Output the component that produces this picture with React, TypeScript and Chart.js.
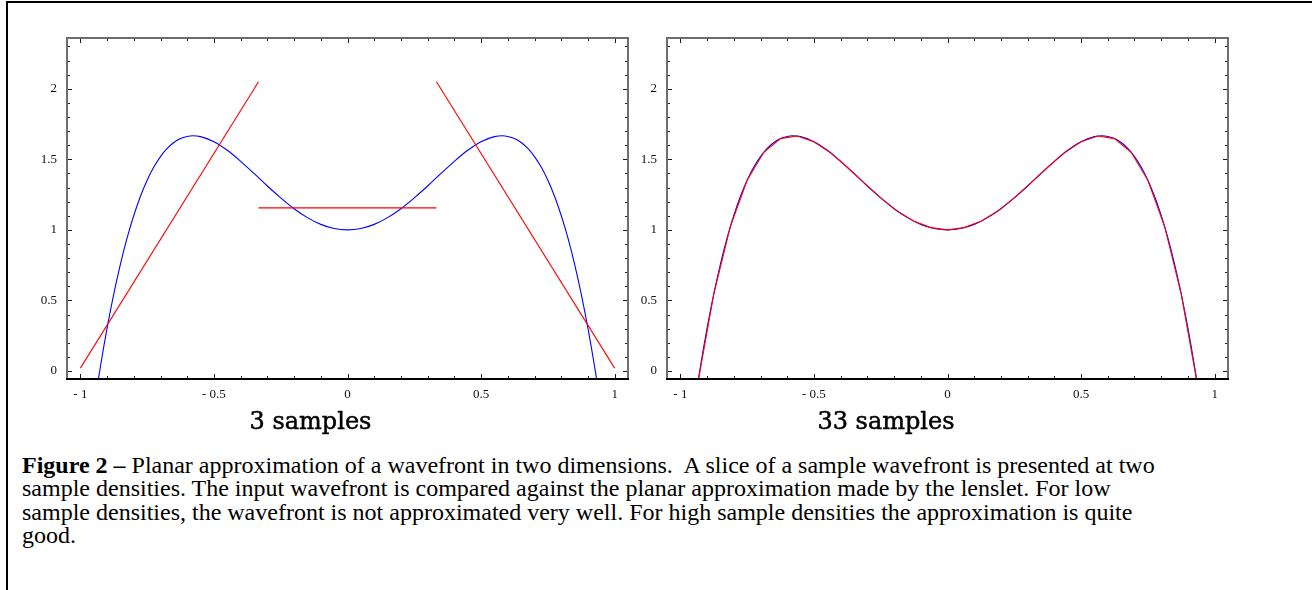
import React, { useEffect, useRef } from "react";
import { Chart, registerables } from "chart.js";

Chart.register(...registerables);

// Input wavefront slice
const curveX = [-1, -0.95, -0.925, -0.9, -0.875, -0.85, -0.825, -0.8, -0.775, -0.75, -0.725, -0.7, -0.675, -0.65, -0.625, -0.6, -0.58, -0.55, -0.5, -0.45, -0.4, -0.35, -0.3, -0.25, -0.2, -0.15, -0.1, -0.05, 0,
  0.05, 0.1, 0.15, 0.2, 0.25, 0.3, 0.35, 0.4, 0.45, 0.5, 0.55, 0.58, 0.6, 0.625, 0.65, 0.675, 0.7, 0.725, 0.75, 0.775, 0.8, 0.825, 0.85, 0.875, 0.9, 0.925, 0.95, 1];
const curveY = [-1, -0.277, 0.03, 0.303, 0.545, 0.758, 0.943, 1.102, 1.238, 1.352, 1.445, 1.519, 1.577, 1.619, 1.647, 1.662, 1.667, 1.661, 1.625, 1.564, 1.486, 1.4, 1.311, 1.227, 1.15, 1.087, 1.039, 1.01, 1.0,
  1.01, 1.039, 1.087, 1.15, 1.227, 1.311, 1.4, 1.486, 1.564, 1.625, 1.661, 1.667, 1.662, 1.647, 1.619, 1.577, 1.519, 1.445, 1.352, 1.238, 1.102, 0.943, 0.758, 0.545, 0.303, 0.03, -0.277, -1];

// 3-sample planar approximation
const plane1X = [-1, -0.333];
const plane1Y = [0.02, 2.05];
const plane2X = [-0.333, 0.333];
const plane2Y = [1.156, 1.156];
const plane3X = [0.333, 1];
const plane3Y = [2.05, 0.02];

// 33-sample approximation
const samplesX = [-1, -0.9375, -0.875, -0.8125, -0.75, -0.6875, -0.625, -0.5625, -0.5, -0.4375, -0.375, -0.3125, -0.25, -0.1875, -0.125, -0.0625, 0,
  0.0625, 0.125, 0.1875, 0.25, 0.3125, 0.375, 0.4375, 0.5, 0.5625, 0.625, 0.6875, 0.75, 0.8125, 0.875, 0.9375, 1];
const samplesY = [-1, -0.119, 0.545, 1.026, 1.352, 1.55, 1.647, 1.665, 1.625, 1.546, 1.444, 1.333, 1.227, 1.133, 1.061, 1.016, 1.0,
  1.016, 1.061, 1.133, 1.227, 1.333, 1.444, 1.546, 1.625, 1.665, 1.647, 1.55, 1.352, 1.026, 0.545, -0.119, -1];

// Axes
const xMin = -1.05;
const xMax = 1.05;
const yMin = -0.057;
const yMax = 2.36;
const xMajorTicks = [-1, -0.5, 0, 0.5, 1];
const xTickLabels = ["- 1", "- 0.5", "0", "0.5", "1"];
const xMinorTicks = [-0.9, -0.8, -0.7, -0.6, -0.4, -0.3, -0.2, -0.1, 0.1, 0.2, 0.3, 0.4, 0.6, 0.7, 0.8, 0.9];
const yMajorTicks = [0, 0.5, 1, 1.5, 2];
const yTickLabels = ["0", "0.5", "1", "1.5", "2"];
const yMinorTicks = [0.1, 0.2, 0.3, 0.4, 0.6, 0.7, 0.8, 0.9, 1.1, 1.2, 1.3, 1.4, 1.6, 1.7, 1.8, 1.9, 2.1, 2.2, 2.3];

const toPts = (xs: number[], ys: number[]) => xs.map((x, i) => ({ x, y: ys[i] }));

const frameTicksPlugin = {
  id: "frameTicks",
  afterDatasetsDraw(chart: any) {
    const { ctx, chartArea: a, scales } = chart;
    const xs = scales.x;
    const ys = scales.y;
    ctx.save();
    ctx.strokeStyle = "#1a1a1a";
    ctx.lineWidth = 1;
    const seg = (x1: number, y1: number, x2: number, y2: number) => {
      ctx.beginPath();
      ctx.moveTo(x1, y1);
      ctx.lineTo(x2, y2);
      ctx.stroke();
    };
    const xt = (v: number, len: number) => {
      const p = Math.round(xs.getPixelForValue(v)) + 0.5;
      seg(p, a.bottom, p, a.bottom - len);
      seg(p, a.top, p, a.top + len);
    };
    const yt = (v: number, len: number) => {
      const p = Math.round(ys.getPixelForValue(v)) + 0.5;
      seg(a.left, p, a.left + len, p);
      seg(a.right, p, a.right - len, p);
    };
    xMajorTicks.forEach((v) => xt(v, 5));
    xMinorTicks.forEach((v) => xt(v, 3));
    yMajorTicks.forEach((v) => yt(v, 5));
    yMinorTicks.forEach((v) => yt(v, 3));
    ctx.lineWidth = 2;
    ctx.strokeStyle = "#6e6e6e";
    seg(a.left, a.bottom, a.left, a.top);
    seg(a.left - 1, a.top, a.right + 1, a.top);
    seg(a.right, a.top, a.right, a.bottom);
    ctx.strokeStyle = "#000";
    seg(a.left - 1, a.bottom, a.right + 1, a.bottom);
    ctx.restore();
  },
};

function makeConfig(datasets: any[], axisW: number, padRight: number) {
  const tickFont = { family: "'Liberation Serif', serif", size: 13 };
  return {
    type: "line",
    data: { datasets },
    options: {
      animation: false,
      responsive: false,
      devicePixelRatio: 1,
      layout: { autoPadding: false, padding: { left: 0, top: 38, right: padRight, bottom: 0 } },
      plugins: { legend: { display: false }, tooltip: { enabled: false } },
      elements: { point: { radius: 0 } },
      scales: {
        x: {
          type: "linear",
          min: xMin,
          max: xMax,
          grid: { display: false, drawTicks: false },
          border: { display: false },
          afterFit: (s: any) => { s.height = 61; },
          afterBuildTicks: (s: any) => { s.ticks = xMajorTicks.map((v) => ({ value: v })); },
          ticks: {
            padding: 8,
            color: "#111",
            font: tickFont,
            maxRotation: 0,
            autoSkip: false,
            callback: (_v: any, i: number) => xTickLabels[i],
          },
        },
        y: {
          type: "linear",
          min: yMin,
          max: yMax,
          grid: { display: false, drawTicks: false },
          border: { display: false },
          afterFit: (s: any) => { s.width = axisW; },
          afterBuildTicks: (s: any) => { s.ticks = yMajorTicks.map((v) => ({ value: v })); },
          ticks: {
            padding: 10,
            color: "#111",
            font: tickFont,
            autoSkip: false,
            callback: (_v: any, i: number) => yTickLabels[i],
          },
        },
      },
    },
    plugins: [frameTicksPlugin],
  };
}

function PlotCanvas(props: { datasets: any[]; width: number; axisW: number; padRight: number; left: number }) {
  const ref = useRef<HTMLCanvasElement>(null);
  useEffect(() => {
    const chart = new Chart(ref.current as any, makeConfig(props.datasets, props.axisW, props.padRight) as any);
    return () => chart.destroy();
  }, []);
  return (
    <canvas
      ref={ref}
      width={props.width}
      height={440}
      style={{ position: "absolute", left: props.left, top: 0, width: props.width, height: 440 }}
    />
  );
}

const lineDs = (xs: number[], ys: number[], color: string, smooth: boolean, order: number) => ({
  data: toPts(xs, ys),
  borderColor: color,
  backgroundColor: color,
  borderWidth: 1.1,
  pointRadius: 0,
  fill: false,
  cubicInterpolationMode: smooth ? "monotone" : "default",
  tension: 0,
  order,
});

export default function App() {
  const leftSets = [
    lineDs(curveX, curveY, "#0000ff", true, 2),
    lineDs(plane1X, plane1Y, "#ff0000", false, 1),
    lineDs(plane2X, plane2Y, "#ff0000", false, 1),
    lineDs(plane3X, plane3Y, "#ff0000", false, 1),
  ];
  const rightSets = [
    lineDs(curveX, curveY, "#0000ff", true, 2),
    lineDs(samplesX, samplesY, "#ff0000", false, 1),
  ];
  const titleStyle: React.CSSProperties = {
    position: "absolute",
    top: 409,
    width: 300,
    textAlign: "center",
    fontFamily: "'DejaVu Serif', serif",
    fontSize: 24,
    lineHeight: "24px",
    color: "#000",
    whiteSpace: "nowrap",
    WebkitTextStroke: "0.5px #000",
  };
  return (
    <div style={{ position: "absolute", left: 0, top: 0, width: 1312, height: 590, overflow: "hidden", background: "#fff" }}>
      <div style={{ position: "absolute", left: 6, top: 1, width: 1320, height: 600, borderLeft: "2px solid #000", borderTop: "2px solid #000" }} />
      <PlotCanvas datasets={leftSets} width={645} axisW={67} padRight={17} left={0} />
      <PlotCanvas datasets={rightSets} width={682} axisW={37} padRight={84} left={630} />
      <div style={{ ...titleStyle, left: 310.5 - 150 }}>3 samples</div>
      <div style={{ ...titleStyle, left: 886 - 150 }}>33 samples</div>
      <div
        style={{
          position: "absolute",
          left: 22,
          top: 454,
          fontFamily: "'Liberation Serif', 'Times New Roman', serif",
          fontSize: 24,
          lineHeight: "23.4px",
          color: "#000",
          whiteSpace: "pre",
        }}
      >
        <b>Figure 2 –</b>
        {" Planar approximation of a wavefront in two dimensions.  A slice of a sample wavefront is presented at two\n"}
        {"sample densities. The input wavefront is compared against the planar approximation made by the lenslet. For low\n"}
        {"sample densities, the wavefront is not approximated very well. For high sample densities the approximation is quite\n"}
        {"good."}
      </div>
    </div>
  );
}
